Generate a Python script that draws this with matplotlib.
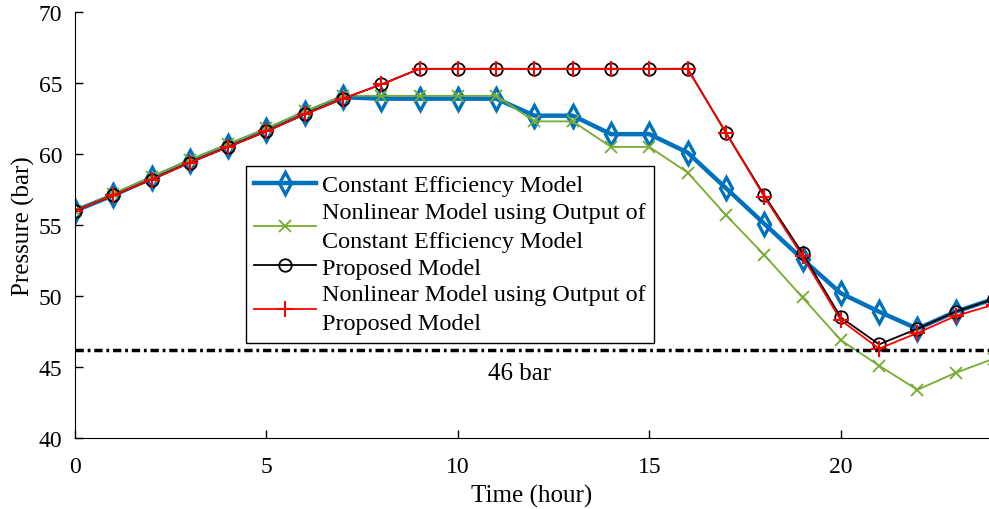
import numpy as np
from matplotlib import pyplot as plt

plt.rcParams['font.family'] = ['Liberation Serif', 'DejaVu Serif']
plt.rcParams['mathtext.fontset'] = 'stix'

hours = np.arange(25)
const_eff = [56.0, 57.1, 58.3, 59.5, 60.6, 61.7, 62.9, 64.0, 63.9, 63.9, 63.9, 63.9,
             62.7, 62.7, 61.4, 61.4, 60.1, 57.6, 55.1, 52.6, 50.2, 48.9, 47.7, 48.9, 49.8]
nl_const = [56.0, 57.2, 58.4, 59.6, 60.7, 61.8, 63.0, 64.1, 64.1, 64.1, 64.1, 64.1,
            62.3, 62.3, 60.5, 60.5, 58.7, 55.7, 52.9, 49.9, 46.9, 45.1, 43.4, 44.6, 45.6]
proposed = [56.0, 57.1, 58.2, 59.4, 60.5, 61.6, 62.8, 63.9, 64.9, 66.0, 66.0, 66.0,
            66.0, 66.0, 66.0, 66.0, 66.0, 61.5, 57.1, 53.0, 48.5, 46.6, 47.7, 48.9, 49.8]
nl_proposed = [56.0, 57.1, 58.2, 59.4, 60.5, 61.6, 62.8, 63.9, 64.9, 66.0, 66.0, 66.0,
               66.0, 66.0, 66.0, 66.0, 66.0, 61.5, 57.0, 52.8, 48.3, 46.3, 47.4, 48.6, 49.4]
limit = 46.2

fig = plt.figure(figsize=(9.89, 5.10), dpi=100)
ax = fig.add_axes([0.0758, 0.139, 0.9242, 0.8355])

ax.plot(hours, const_eff, color='#0072BD', lw=3.2, marker='d', ms=11, mfc='none', mew=2.4,
        label='Constant Efficiency Model')
ax.plot(hours, nl_const, color='#77AC30', lw=1.3, marker='x', ms=8, mew=1.3,
        label='Nonlinear Model using Output of\nConstant Efficiency Model')
ax.plot(hours, proposed, color='black', lw=1.3, marker='o', ms=9, mfc='none', mew=1.3,
        label='Proposed Model')
ax.plot(hours, nl_proposed, color='red', lw=1.3, marker='+', ms=11, mew=1.5,
        label='Nonlinear Model using Output of\nProposed Model')
ax.axhline(limit, color='black', lw=2.5, ls='-.', dashes=(2.4, 1.1, 0.8, 1.1))
ax.text(11.6, 44.6, '46 bar', fontsize=18, ha='center', va='center')

ax.set_xlim(0, 23.87)
ax.set_ylim(40, 70)
ax.set_xticks([0, 5, 10, 15, 20])
ax.set_yticks(np.arange(40, 71, 5))
ax.tick_params(direction='in', labelsize=17, length=6, width=1, pad=9)
ax.tick_params(axis='x', pad=13)
ax.spines['top'].set_visible(False)
ax.spines['right'].set_visible(False)
ax.set_xlabel('Time (hour)', fontsize=18, labelpad=5)
ax.set_ylabel('Pressure (bar)', fontsize=18, labelpad=3)

leg = ax.legend(loc='lower left', bbox_to_anchor=(0.1867, 0.224), fontsize=17.4, fancybox=False,
                edgecolor='black', framealpha=1, handlelength=2.55, handletextpad=0.25,
                borderpad=0.35, labelspacing=0.22, borderaxespad=0)
leg.get_frame().set_linewidth(1)
for t in leg.get_texts():
    t.set_linespacing(1.5)

fig.savefig('out.png', dpi=100)
